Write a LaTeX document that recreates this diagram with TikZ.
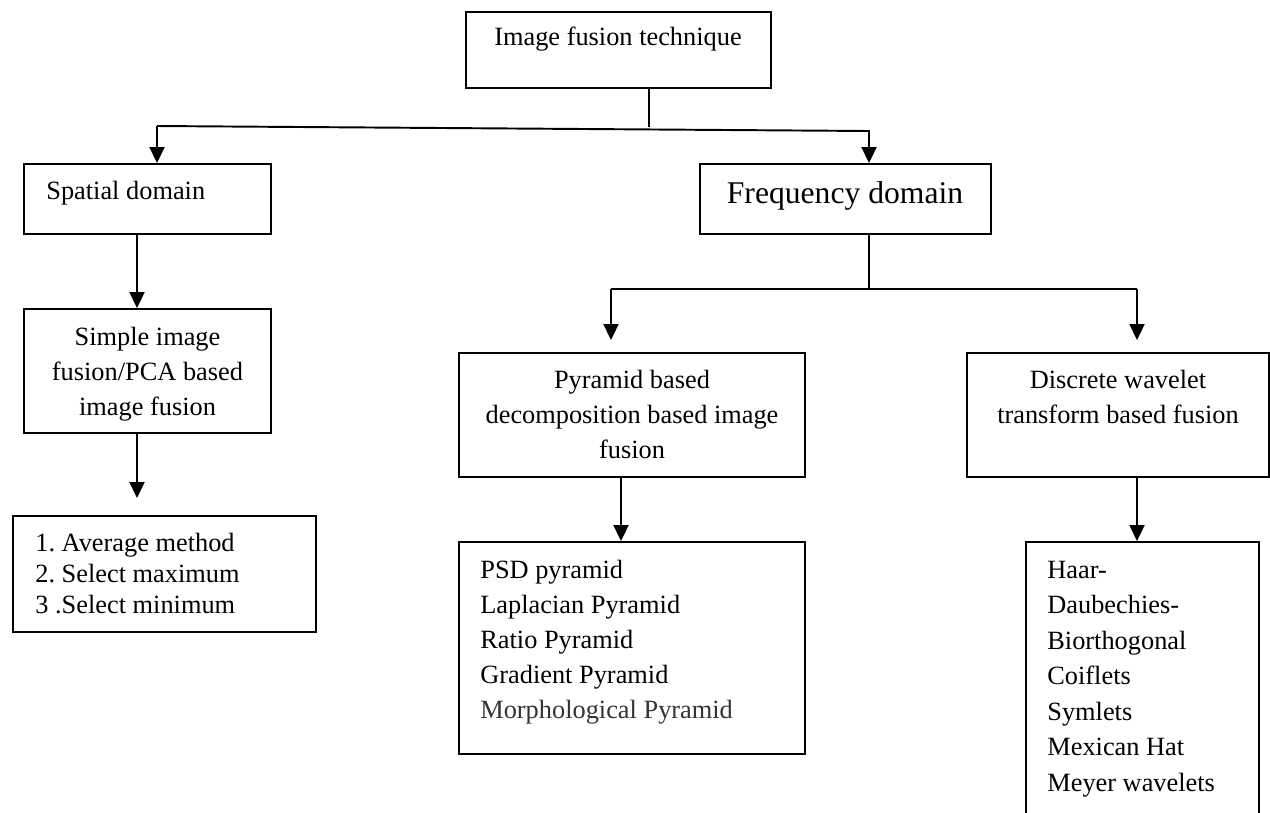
\documentclass[tikz,border=0pt]{standalone}
\usepackage{fontspec}
\setmainfont{Liberation Serif}
\usetikzlibrary{arrows.meta}

\newcommand{\lnstrut}{\rule{0pt}{0.5cm}}

\begin{document}
\frenchspacing
\begin{tikzpicture}[x=0.02cm,y=-0.02cm,
    box/.style={draw,line width=1.1pt,inner sep=0pt},
    txt/.style={inner sep=0pt,font=\fontsize{15}{19.9}\selectfont},
    arr/.style={line width=1.1pt,-{Triangle[length=0.32cm,width=0.3cm]}},
    stem/.style={line width=0.7pt}]

  \useasboundingbox (0,0) rectangle (1270,812);

  \begin{scope}[every node/.style={box}]
    \node[minimum width=6.1cm,minimum height=1.52cm]  (top)      at (618.5,50)  {};
    \node[minimum width=4.94cm,minimum height=1.4cm]  (spatial)  at (147.5,199) {};
    \node[minimum width=5.82cm,minimum height=1.4cm]  (freq)     at (845.5,199) {};
    \node[minimum width=4.94cm,minimum height=2.48cm] (simple)   at (147.5,371) {};
    \node[minimum width=6.92cm,minimum height=2.48cm] (pyramid)  at (632,415)   {};
    \node[minimum width=6.04cm,minimum height=2.48cm] (dwt)      at (1118,415)  {};
    \node[minimum width=6.06cm,minimum height=2.32cm] (average)  at (164.5,574) {};
    \node[minimum width=6.92cm,minimum height=4.24cm] (psd)      at (632,648)   {};
    \node[minimum width=4.66cm,minimum height=5.76cm] (wavelet)  at (1142.5,686) {};
  \end{scope}

  \begin{scope}[every node/.style={txt}]
    \node[anchor=base] (toptxt) at (618,45) {Image fusion technique};
    \node[anchor=base west] (spatialtxt) at (46,199) {Spatial domain};
    \node[anchor=base,font=\fontsize{18}{22}\selectfont] (freqtxt) at (845,203) {Frequency domain};
    \node[anchor=north,align=center] (simpletxt) at (147.5,320)
      {\lnstrut Simple image\\fusion/PCA based\\image fusion};
    \node[anchor=north,align=center] (pyramidtxt) at (632,363)
      {\lnstrut Pyramid based\\decomposition based image\\fusion};
    \node[anchor=north,align=center] (dwttxt) at (1118,363)
      {\lnstrut Discrete wavelet\\transform based fusion};
    \node[anchor=north west,align=left,font=\fontsize{15}{17.6}\selectfont] (averagetxt) at (35,526)
      {\lnstrut 1. Average method\\2. Select maximum\\3 .Select minimum};
    \node[anchor=north west,align=left] (psdtxt) at (480,553)
      {\lnstrut PSD pyramid\\Laplacian Pyramid\\Ratio Pyramid\\Gradient Pyramid\\\textcolor{black!80}{Morphological Pyramid}};
    \node[anchor=north west,align=left,font=\fontsize{15}{20.2}\selectfont] (wavelettxt) at (1047,553)
      {\lnstrut Haar-\\Daubechies-\\Biorthogonal\\Coiflets\\Symlets\\Mexican Hat\\Meyer wavelets};
  \end{scope}

  \coordinate (busL) at (157,126);
  \coordinate (busR) at (869,131);
  \coordinate (topstem) at (649,127);
  \coordinate (fstem) at (869,289);
  \coordinate (busA) at (611,289);
  \coordinate (busB) at (1137,289);
  \coordinate (avgtip) at (137,498);

  \draw[stem] (top.south -| topstem) -- (topstem);
  \draw[arr] (busL) -- (busR) -- (busR |- freq.north);
  \draw[arr] (busL) -- (busL |- spatial.north);
  \draw[arr] (spatial.south -| avgtip) -- (simple.north -| avgtip);
  \draw[arr] (simple.south -| avgtip) -- (avgtip);

  \draw[stem] (freq.south -| fstem) -- (fstem);
  \draw[line width=1.1pt] (busA) -- (busB);
  \draw[arr] (busA) -- ([yshift=0.24cm]pyramid.north -| busA);
  \draw[arr] (busB) -- ([yshift=0.24cm]dwt.north -| busB);
  \draw[arr] (pyramid.south -| 621,0) -- (psd.north -| 621,0);
  \draw[arr] (dwt.south -| busB) -- (wavelet.north -| busB);

\end{tikzpicture}
\end{document}
